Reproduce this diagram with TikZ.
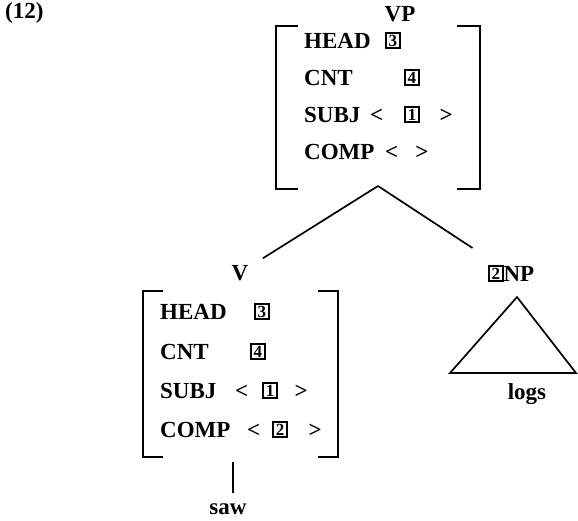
\documentclass[tikz,border=0pt]{standalone}
\usepackage{fontspec}
\setmainfont{Liberation Serif}
\usetikzlibrary{positioning}

\newcommand\tagnum[1]{{\setlength\fboxsep{0.8pt}\setlength\fboxrule{1.4pt}%
  \raisebox{1.6pt}{\fbox{\makebox[11pt]{\rule{0pt}{12pt}\fontsize{17}{17}\selectfont#1}}}}}

\begin{document}
\begin{tikzpicture}[x=1pt,y=-1pt,font=\bfseries\fontsize{23}{27}\selectfont]
  \tikzstyle{cat}=[inner sep=0pt]
  \tikzstyle{feat}=[inner sep=0pt,anchor=base west]
  \tikzstyle{brack}=[line width=1.7pt]
  \tikzstyle{branch}=[line width=1.7pt]

  \useasboundingbox (0,0) rectangle (578,520);

  \node[feat] (ex) at (5,18) {(12)};

  \node[cat,anchor=base] (vp-cat) at (400,21) {VP};
  \node[feat] (vp-head)  at (304,48)  {HEAD};
  \node[feat] (vp-headv) at (385,48)  {\tagnum{3}};
  \node[feat] (vp-cnt)   at (304,85)  {CNT};
  \node[feat] (vp-cntv)  at (404,85)  {\tagnum{4}};
  \node[feat] (vp-subj)  at (304,122) {SUBJ};
  \node[feat] (vp-subjv) at (370,122) {<\hspace{21pt}\tagnum{1}\hspace{20pt}>};
  \node[feat] (vp-comp)  at (304,159) {COMP};
  \node[feat] (vp-compv) at (385,159) {<\hspace{17pt}>};
  \draw[brack] (298,26) -- (276,26) -- (276,189) -- (298,189);
  \draw[brack] (457,26) -- (480,26) -- (480,189) -- (457,189);
  \coordinate (vp-foot) at (378,186);

  \node[cat,anchor=base] (v-cat) at (240,280) {V};
  \node[feat] (v-head)  at (160,319) {HEAD};
  \node[feat] (v-headv) at (254,319) {\tagnum{3}};
  \node[feat] (v-cnt)   at (160,359) {CNT};
  \node[feat] (v-cntv)  at (250,359) {\tagnum{4}};
  \node[feat] (v-subj)  at (160,398) {SUBJ};
  \node[feat] (v-subjv) at (235,398) {<\hspace{14pt}\tagnum{1}\hspace{17pt}>};
  \node[feat] (v-comp)  at (160,437) {COMP};
  \node[feat] (v-compv) at (247,437) {<\hspace{12pt}\tagnum{2}\hspace{21pt}>};
  \draw[brack] (163,291) -- (143,291) -- (143,457) -- (163,457);
  \draw[brack] (318,291) -- (338,291) -- (338,457) -- (318,457);
  \coordinate (v-foot) at (233,462);
  \node[cat,anchor=base] (saw) at (228,514) {saw};

  \node[feat] (np-cat) at (488,281) {\tagnum{2}NP};
  \draw[brack] (517,297) -- (450,373) -- (576,373) -- cycle;
  \node[cat,anchor=base] (logs) at (527,399) {logs};

  \draw[branch,shorten >=17pt] (vp-foot) -- (v-cat);
  \draw[branch,shorten >=31pt] (vp-foot) -- (np-cat);
  \draw[branch,shorten >=10pt] (v-foot) -- (v-foot |- saw.north);
\end{tikzpicture}
\end{document}
